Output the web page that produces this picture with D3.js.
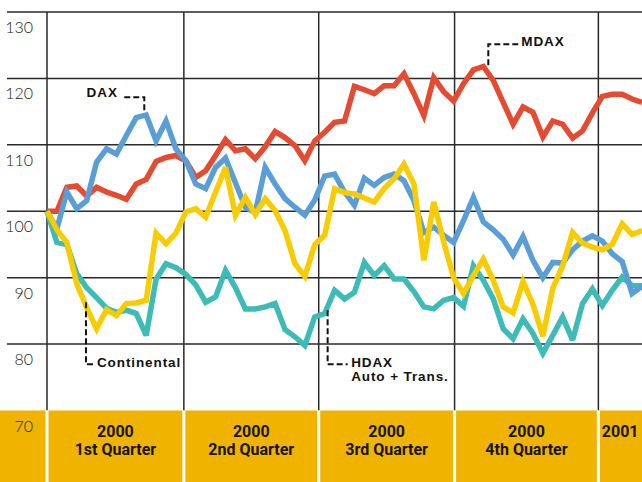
<!DOCTYPE html>
<html>
<head>
<meta charset="utf-8">
<script src="https://cdn.jsdelivr.net/npm/d3@7"></script>
<style>
  body { margin: 0; background: #fff; }
</style>
</head>
<body>
<div id="chart-container"></div>
<script>
// Index values (2000 = 100), one value per observation
const mdax = [100, 100, 103.6, 103.8, 102.3, 103.6, 102.9, 102.4, 101.8, 104.1,
  104.8, 107.5, 108.1, 108.4, 107.6, 105.1, 106.1, 108.4, 110.8, 109.1,
  109.4, 107.9, 109.7, 112.0, 111.1, 109.9, 107.6, 110.6, 111.9, 113.4,
  113.6, 118.8, 118.3, 117.7, 118.9, 118.9, 120.7, 117.7, 114.4, 120.1,
  118.0, 116.6, 119.2, 121.3, 121.8, 119.7, 116.4, 113.1, 115.7, 114.9,
  111.2, 113.6, 113.1, 111.0, 112.1, 114.8, 117.3, 117.6, 117.6, 116.9, 116.4];

const dax = [100, 97.4, 102.9, 100.4, 101.6, 107.4, 109.4, 108.6, 111.4, 114.1,
  114.5, 110.6, 113.6, 109.4, 107.6, 104.1, 103.4, 106.6, 108.0, 104.3,
  100.6, 99.8, 106.6, 104.1, 101.9, 100.6, 99.4, 101.7, 105.3, 105.6,
  102.9, 100.9, 105.0, 103.9, 105.1, 105.6, 104.6, 101.6, 96.8, 97.6,
  96.4, 95.3, 98.6, 102.1, 98.4, 97.2, 95.8, 93.4, 96.2, 92.6,
  90.0, 92.3, 92.2, 94.2, 95.5, 96.3, 95.5, 93.6, 92.4, 87.6, 88.7];

const hdaxAuto = [100, 95.3, 95.0, 90.6, 88.5, 87.0, 85.4, 84.8, 85.1, 84.6,
  81.3, 89.8, 92.1, 91.5, 90.5, 88.9, 86.3, 87.1, 91.1, 88.5,
  85.3, 85.3, 85.6, 86.1, 82.2, 81.1, 79.8, 84.1, 84.6, 88.1,
  86.8, 87.8, 92.3, 90.3, 91.8, 89.8, 89.8, 87.9, 85.6, 85.3,
  86.6, 87.0, 85.7, 91.8, 89.6, 86.8, 82.3, 80.8, 83.8, 81.6,
  78.6, 81.3, 84.1, 80.6, 86.1, 88.3, 85.8, 88.1, 90.1, 88.8, 88.8];

const continental = [100, 97.2, 95.3, 89.1, 85.5, 82.3, 85.2, 84.3, 86.1, 86.2,
  86.6, 96.7, 95.1, 96.7, 99.9, 100.4, 99.1, 102.9, 106.6, 99.4,
  102.1, 99.5, 101.9, 100.1, 97.1, 92.1, 90.2, 95.0, 96.4, 103.4,
  102.8, 102.6, 102.0, 101.4, 103.4, 104.9, 107.1, 104.1, 92.6, 101.4,
  95.4, 90.0, 87.6, 90.3, 92.8, 89.6, 85.6, 84.7, 89.4, 86.0,
  81.2, 88.4, 91.8, 96.8, 95.2, 94.6, 94.2, 95.0, 98.1, 96.5, 97.1];

// Quarter bands (start given in observation index)
const quarterStarts = [0, 13.8, 27.4, 41.1, 55.6];
const quarterYears = ["2000", "2000", "2000", "2000", "2001"];
const quarterNames = ["1st Quarter", "2nd Quarter", "3rd Quarter", "4th Quarter", ""];
const lastObs = 60;

const yTicks = [130, 120, 110, 100, 90, 80, 70];

const width = 642;
const height = 482;

const svg = d3.select("#chart-container")
  .append("svg")
  .attr("width", width)
  .attr("height", height);

const x = d3.scaleLinear()
  .domain([0, lastObs])
  .range([47, 642]);

const y = d3.scaleLinear()
  .domain([70, 130])
  .range([410.5, 12]);

// Horizontal grid
svg.selectAll(".hgrid")
  .data(yTicks.filter(d => d > 70))
  .enter()
  .append("line")
  .attr("x1", 7)
  .attr("x2", width)
  .attr("y1", d => y(d))
  .attr("y2", d => y(d))
  .attr("stroke", "#2a2a2a")
  .attr("stroke-width", 1.5);

// Vertical quarter lines
svg.selectAll(".vgrid")
  .data(quarterStarts)
  .enter()
  .append("line")
  .attr("x1", d => x(d))
  .attr("x2", d => x(d))
  .attr("y1", y(130))
  .attr("y2", y(70))
  .attr("stroke", "#2a2a2a")
  .attr("stroke-width", 1.5);

// Quarter band at the bottom
svg.append("rect")
  .attr("x", 0)
  .attr("y", y(70))
  .attr("width", width)
  .attr("height", height - y(70))
  .attr("fill", "#f0b400");

svg.selectAll(".sep")
  .data(quarterStarts)
  .enter()
  .append("line")
  .attr("x1", d => x(d))
  .attr("x2", d => x(d))
  .attr("y1", y(70))
  .attr("y2", height)
  .attr("stroke", "#fff")
  .attr("stroke-width", 3);

const bandX = (d, i) => (x(d) + x(quarterStarts[i + 1] ?? lastObs)) / 2;

// year and quarter name as two separate texts
svg.selectAll(".qyear")
  .data(quarterStarts)
  .enter()
  .append("text")
  .attr("x", bandX)
  .attr("y", 437)
  .attr("text-anchor", "middle")
  .style("font-family", "'Liberation Sans Narrow', 'Arial Narrow', 'Roboto', sans-serif")
  .style("font-weight", "bold")
  .style("font-size", "16px")
  .attr("fill", "#151515")
  .text((d, i) => quarterYears[i]);

svg.selectAll(".qname")
  .data(quarterStarts)
  .enter()
  .append("text")
  .attr("x", bandX)
  .attr("y", 455)
  .attr("text-anchor", "middle")
  .style("font-family", "'Liberation Sans Narrow', 'Arial Narrow', 'Roboto', sans-serif")
  .style("font-weight", "bold")
  .style("font-size", "16px")
  .attr("fill", "#151515")
  .text((d, i) => quarterNames[i]);

// Y labels
svg.selectAll(".ylabel")
  .data(yTicks)
  .enter()
  .append("text")
  .attr("x", 33)
  .attr("y", d => y(d) + 21)
  .attr("text-anchor", "end")
  .style("font-family", "Lato, 'Open Sans', sans-serif")
  .style("font-weight", 300)
  .style("font-size", "16px")
  .attr("fill", "#222")
  .text(d => d);

// Lines
const line = d3.line()
  .x((d, i) => x(i))
  .y(d => y(d));

const series = [
  { values: mdax, color: "#e64b32" },
  { values: hdaxAuto, color: "#3dbbb6" },
  { values: dax, color: "#5a9ed8" },
  { values: continental, color: "#f9cc00" }
];

svg.selectAll(".series")
  .data(series)
  .enter()
  .append("path")
  .attr("d", d => line(d.values))
  .attr("fill", "none")
  .attr("stroke", d => d.color)
  .attr("stroke-width", 5.5)
  .attr("stroke-linejoin", "miter")
  .attr("stroke-miterlimit", 3);

// Labels with dashed leaders (anchored to a point on the line)
const notes = [
  { lines: ["DAX"], at: [9.81, 115.2], rise: -13, run: -22, dx: -4.5, dy: 0 },
  { lines: ["MDAX"], at: [44.5, 122.0], rise: -21, run: 32, dx: 1, dy: 2 },
  { lines: ["Continental"], at: [3.93, 86.3], rise: 62, run: 9, dx: 2, dy: 2.5 },
  { lines: ["HDAX", "Auto + Trans."], at: [28.3, 85.1], rise: 54, run: 20, dx: 3.5, dy: 2.5 }
];

notes.forEach(n => {
  const ax = x(n.at[0]);
  const ay = y(n.at[1]);
  svg.append("path")
    .attr("d", `M${ax},${ay}V${ay + n.rise}H${ax + n.run}`)
    .attr("fill", "none")
    .attr("stroke", "#111")
    .attr("stroke-width", 2)
    .attr("stroke-dasharray", "6,3");

  const t = svg.append("text")
    .attr("text-anchor", n.run < 0 ? "end" : "start")
    .style("font-family", "'Liberation Sans', Arial, sans-serif")
    .style("font-weight", "bold")
    .style("font-size", "13.5px")
    .style("letter-spacing", "0.9px")
    .attr("fill", "#111");

  n.lines.forEach((s, j) => {
    t.append("tspan")
      .attr("x", ax + n.run + n.dx)
      .attr("y", ay + n.rise + n.dy + j * 14.5)
      .text(s);
  });
});
</script>
</body>
</html>
